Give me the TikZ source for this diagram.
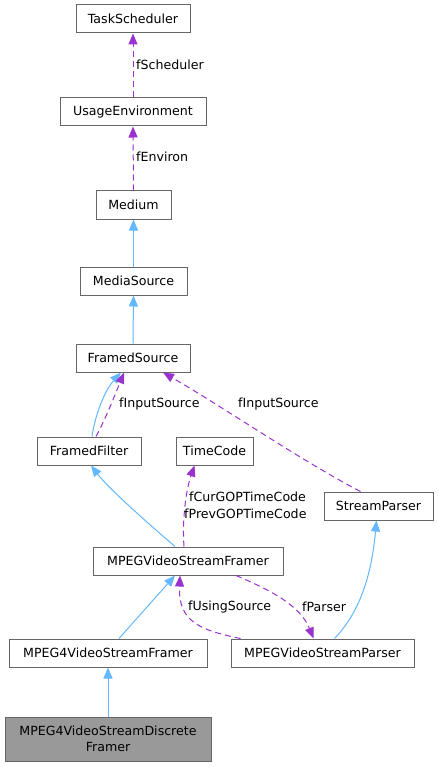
\documentclass[tikz,border=0pt]{standalone}
\usepackage{fontspec}
\setmainfont{DejaVu Sans}
\usetikzlibrary{arrows.meta,calc}
\definecolor{edgepurple}{HTML}{9A32CD}
\definecolor{edgeblue}{HTML}{63B8FF}
\definecolor{boxgray}{HTML}{666666}
\definecolor{fillgray}{HTML}{999999}
\tikzset{
  box/.style={draw=boxgray, fill=white, line width=1pt, inner sep=0pt, minimum height=28pt, font=\fontsize{12.6}{15}\selectfont, align=center},
  inh/.style={draw=edgeblue, line width=1pt, -{Triangle[length=11pt,width=9pt]}},
  use/.style={draw=edgepurple, line width=1pt, dash pattern=on 6pt off 4pt, -{Triangle[length=11pt,width=9pt]}},
  lbl/.style={font=\fontsize{12.6}{15}\selectfont, inner sep=0pt, anchor=west},
}
\begin{document}
\begin{tikzpicture}[x=1pt,y=-1pt]
\path[use as bounding box, fill=white] (0,0) rectangle (438,767);
\node[box, minimum width=114pt] (ts) at (133,19) {TaskScheduler};
\node[box, minimum width=146pt] (ue) at (133,112) {UsageEnvironment};
\node[box, minimum width=75pt] (med) at (133.5,205) {Medium};
\node[box, minimum width=107pt] (ms) at (133.5,281) {MediaSource};
\node[box, minimum width=114pt] (fs) at (133,358) {FramedSource};
\node[box, minimum width=104pt] (ff) at (89,451) {FramedFilter};
\node[box, minimum width=77pt] (tc) at (214.5,451) {TimeCode};
\node[box, minimum width=109pt] (sp) at (378.5,506) {StreamParser};
\node[box, minimum width=190pt] (mvsf) at (188,561) {MPEGVideoStreamFramer};
\node[box, minimum width=198pt] (m4) at (108,653) {MPEG4VideoStreamFramer};
\node[box, minimum width=183pt] (mvsp) at (322.5,653) {MPEGVideoStreamParser};
\node[box, minimum width=206pt, minimum height=44pt, fill=fillgray, font=\fontsize{12.6}{16}\selectfont] (disc) at (108,739) {MPEG4VideoStreamDiscrete\\Framer};

% top chain
\draw[use] (ue.north) -- (ts.south);
\node[lbl] (l1) at (136,65) {fScheduler};
\draw[use] (med.north) -- (ue.south);
\node[lbl] (l2) at (136,157) {fEnviron};
\draw[inh] (ms.north) -- (med.south);
\draw[inh] (fs.north) -- (ms.south);

% FramedFilter -> FramedSource
\draw[inh] ([xshift=3pt]ff.north) .. controls (95,415) and (105,390) .. ([xshift=-12pt]fs.south);
\draw[use] ([xshift=7pt]ff.north) .. controls (105,420) and (115,395) .. ([xshift=-9pt]fs.south);
\node[lbl] (l3) at (119,404) {fInputSource};

% StreamParser -> FramedSource
\draw[use] ([xshift=-18pt]sp.north) .. controls (300,460) and (220,405) .. ([xshift=30pt]fs.south);
\node[lbl] (l4) at (238,404) {fInputSource};

% MPEGVideoStreamFramer -> FramedFilter
\draw[inh] ([xshift=-13pt]mvsf.north) .. controls (150,525) and (110,490) .. ([xshift=2pt]ff.south);

% MPEGVideoStreamFramer -> TimeCode
\draw[use] ([xshift=-4pt]mvsf.north) .. controls (182,520) and (186,490) .. ([xshift=-20pt]tc.south);
\node[lbl] (l5) at (189,497) {fCurGOPTimeCode};
\node[lbl] (l6) at (184,514) {fPrevGOPTimeCode};

% MPEGVideoStreamParser -> StreamParser
\draw[inh] ([xshift=12pt]mvsp.north) .. controls (362,610) and (372,570) .. ([xshift=-2pt]sp.south);

% MPEG4VideoStreamFramer -> MPEGVideoStreamFramer
\draw[inh] ([xshift=11pt]m4.north) -- ([xshift=-13pt]mvsf.south);

% fParser
\draw[use] ([xshift=48pt]mvsf.south) .. controls (270,590) and (300,605) .. ([xshift=-9pt]mvsp.north);
\node[lbl] (l7) at (302,607) {fParser};

% fUsingSource
\draw[use] ([xshift=-82pt]mvsp.north) .. controls (200,630) and (178,622) .. ([xshift=-8pt]mvsf.south);
\node[lbl] (l8) at (188,607) {fUsingSource};

% Discrete -> MPEG4
\draw[inh] (disc.north) -- (m4.south);
\end{tikzpicture}
\end{document}
